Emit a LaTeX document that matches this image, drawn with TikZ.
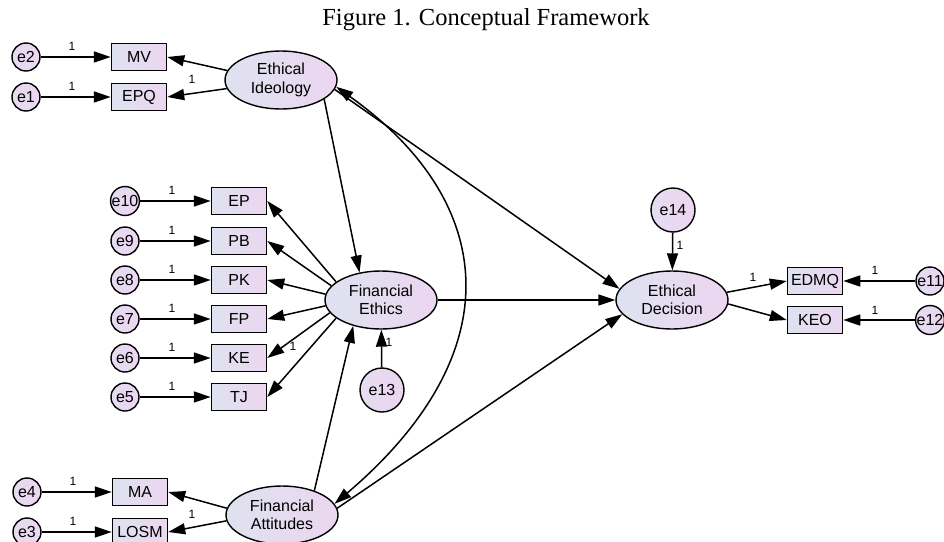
\documentclass[tikz,border=0pt]{standalone}
\usepackage{fontspec}
\setmainfont{Liberation Sans}
\newfontfamily\titlefont{Liberation Serif}
\usetikzlibrary{arrows.meta,shapes.geometric}
\definecolor{lcol}{RGB}{222,226,240}
\definecolor{rcol}{RGB}{236,214,240}
\begin{document}
\begin{tikzpicture}[x=1pt,y=-1pt,
  every node/.style={font=\fontsize{16}{18.5}\selectfont},
  obs/.style={draw, line width=1.5pt, rectangle, minimum width=55pt, minimum height=27pt, inner sep=0pt, left color=lcol, right color=rcol},
  lat/.style={draw, line width=1.4pt, ellipse, minimum width=112pt, minimum height=58pt, inner sep=0pt, align=center, left color=lcol, right color=rcol},
  err/.style={draw, line width=1.4pt, circle, minimum size=28pt, inner sep=0pt, left color=lcol!50!rcol, right color=rcol},
  bigerr/.style={err, minimum size=44pt},
  arr/.style={line width=1.5pt, -{Triangle[length=17pt,width=11pt]}},
  dbl/.style={line width=1.5pt, {Triangle[length=17pt,width=11pt]}-{Triangle[length=17pt,width=11pt]}},
  wt/.style={font=\fontsize{12}{14}\selectfont, inner sep=0pt}
]
\useasboundingbox (0,0) rectangle (944,541);
\fill[white] (0,0) rectangle (944,541);

\node[font=\titlefont\fontsize{24.5}{28}\selectfont, anchor=base] (title) at (486,25) {Figure 1. Conceptual Framework};

% latent variables
\node[lat] (EI) at (281,80) {Ethical\\Ideology};
\node[lat] (FE) at (381,300) {Financial\\Ethics};
\node[lat] (ED) at (672,300) {Ethical\\Decision};
\node[lat] (FA) at (282,515) {Financial\\Attitudes};

% observed
\node[obs] (MV) at (139,57) {MV};
\node[obs] (EPQ) at (139,97) {EPQ};
\node[obs] (EP) at (239,201) {EP};
\node[obs] (PB) at (239,241) {PB};
\node[obs] (PK) at (239,280) {PK};
\node[obs] (FP) at (239,319) {FP};
\node[obs] (KE) at (239,358) {KE};
\node[obs] (TJ) at (239,397) {TJ};
\node[obs] (MA) at (140,492) {MA};
\node[obs] (LOSM) at (140,532) {LOSM};
\node[obs] (EDMQ) at (815,281) {EDMQ};
\node[obs] (KEO) at (815,320) {KEO};

% errors
\node[err] (e2) at (26,57) {e2};
\node[err] (e1) at (26,97) {e1};
\node[err] (e10) at (125,201) {e10};
\node[err] (e9) at (125,241) {e9};
\node[err] (e8) at (125,280) {e8};
\node[err] (e7) at (125,319) {e7};
\node[err] (e6) at (125,358) {e6};
\node[err] (e5) at (125,397) {e5};
\node[err] (e4) at (27,492) {e4};
\node[err] (e3) at (27,532) {e3};
\node[err] (e11) at (930,281) {e11};
\node[err] (e12) at (930,320) {e12};
\node[bigerr] (e13) at (382,390) {e13};
\node[bigerr] (e14) at (673,210) {e14};

% error paths
\foreach \e/\b in {e2/MV,e1/EPQ,e10/EP,e9/PB,e8/PK,e7/FP,e6/KE,e5/TJ,e4/MA,e3/LOSM,e11/EDMQ,e12/KEO,e13/FE,e14/ED}
  \draw[arr] (\e) -- (\b);

% loadings
\draw[arr] (EI.170) -- (MV.east);
\draw[arr] (EI.189) -- (EPQ.east);
\draw[arr] (FE.158) -- (EP.east);
\draw[arr] (FE.164) -- (PB.east);
\draw[arr] (FE.174) -- (PK.east);
\draw[arr] (FE.186) -- (FP.east);
\draw[arr] (FE.194) -- (KE.east);
\draw[arr] (FE.202) -- (TJ.east);
\draw[arr] (FA.173) -- (MA.east);
\draw[arr] (FA.186) -- (LOSM.east);
\draw[arr] (ED.8) -- (EDMQ.west);
\draw[arr] (ED.-4) -- (KEO.west);

% structural paths
\draw[arr] (EI.-24) -- (FE.128);
\draw[arr] (FA.37) -- (FE.223);
\draw[arr] (FE.east) -- (ED.west);
\draw[arr] (EI.-10) -- (ED.168);
\draw[arr] (FA.7) -- (ED.196);
\draw[dbl] (EI.-7) .. controls (495,200) and (515,350) .. (FA.12);

% weights
\node[wt] (w1) at (72,46) {1};
\node[wt] (w2) at (72,86) {1};
\node[wt] (w3) at (192,79) {1};
\node[wt] (w4) at (172,190) {1};
\node[wt] (w5) at (172,230) {1};
\node[wt] (w6) at (172,269) {1};
\node[wt] (w7) at (172,308) {1};
\node[wt] (w8) at (172,347) {1};
\node[wt] (w9) at (172,386) {1};
\node[wt] (w10) at (293,346) {1};
\node[wt] (w11) at (389,342) {1};
\node[wt] (w12) at (680,245) {1};
\node[wt] (w13) at (753,277) {1};
\node[wt] (w14) at (875,270) {1};
\node[wt] (w15) at (875,310) {1};
\node[wt] (w16) at (73,481) {1};
\node[wt] (w17) at (73,521) {1};
\node[wt] (w18) at (192,514) {1};
\end{tikzpicture}
\end{document}
